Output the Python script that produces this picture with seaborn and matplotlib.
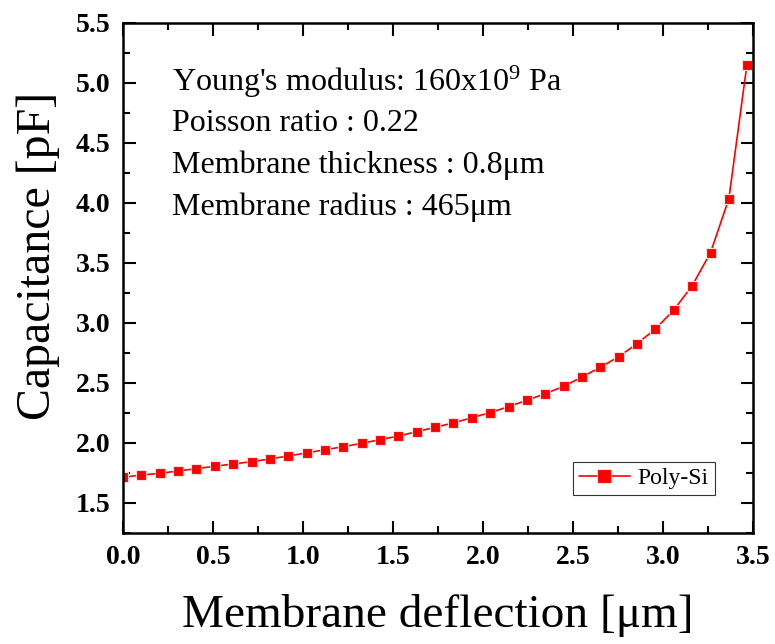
import matplotlib
matplotlib.use("Agg")
import matplotlib.pyplot as plt
import seaborn as sns
import pandas as pd
from matplotlib.ticker import MultipleLocator, FormatStrFormatter

deflection = [0.000, 0.102, 0.204, 0.306, 0.408, 0.510, 0.612, 0.714, 0.816, 0.918,
              1.020, 1.122, 1.224, 1.326, 1.428, 1.530, 1.632, 1.734, 1.836, 1.938,
              2.040, 2.142, 2.244, 2.346, 2.448, 2.550, 2.652, 2.754, 2.856, 2.958,
              3.060, 3.162, 3.264, 3.366, 3.466]
capacitance = [1.714, 1.733, 1.747, 1.767, 1.786, 1.806, 1.825, 1.844, 1.867, 1.892,
               1.917, 1.944, 1.969, 1.997, 2.028, 2.058, 2.094, 2.131, 2.167, 2.211,
               2.253, 2.303, 2.356, 2.411, 2.472, 2.550, 2.631, 2.719, 2.828, 2.950,
               3.108, 3.311, 3.586, 4.036, 5.150]
series_name = "Poly-Si"
info_lines = [r"Young's modulus: 160x10$^{9}$ Pa",
              "Poisson ratio : 0.22",
              "Membrane thickness : 0.8\u03bcm",
              "Membrane radius : 465\u03bcm"]

sns.set_style("ticks")
plt.rcParams["font.family"] = ["Liberation Serif", "DejaVu Serif"]
plt.rcParams["mathtext.fontset"] = "custom"
plt.rcParams["mathtext.rm"] = "Liberation Serif"
plt.rcParams["mathtext.it"] = "Liberation Serif:italic"
for k in ["text.color", "axes.labelcolor", "xtick.color", "ytick.color", "axes.edgecolor"]:
    plt.rcParams[k] = "black"

df = pd.DataFrame({"x": deflection, "y": capacitance, "s": series_name})

fig = plt.figure(figsize=(7.75, 6.44), dpi=100)
ax = fig.add_axes([0.1587, 0.1724, 0.8129, 0.7919])

sns.lineplot(data=df, x="x", y="y", hue="s", palette=["#ff0000"], marker="s",
             markersize=7, markeredgewidth=0.8, markeredgecolor="#ffdddd",
             linewidth=1.2, ax=ax)

ax.set_xlim(0, 3.5)
ax.set_ylim(1.25, 5.5)
ax.xaxis.set_major_locator(MultipleLocator(0.5))
ax.xaxis.set_minor_locator(MultipleLocator(0.25))
ax.yaxis.set_major_locator(MultipleLocator(0.5))
ax.yaxis.set_minor_locator(MultipleLocator(0.25))
ax.xaxis.set_major_formatter(FormatStrFormatter("%.1f"))
ax.yaxis.set_major_formatter(FormatStrFormatter("%.1f"))
ax.tick_params(which="both", direction="in", top=True, right=True, width=1.5, color="black",
               labelcolor="black")
ax.tick_params(which="major", length=9, labelsize=20, pad=9)
ax.tick_params(which="minor", length=5)
for sp in ax.spines.values():
    sp.set_linewidth(1.8)
    sp.set_color("black")

ax.set_xlabel("Membrane deflection [\u03bcm]", fontsize=34, color="black")
ax.set_ylabel("Capacitance [pF]", fontsize=34.5, color="black")
ax.xaxis.set_label_coords(0.5, -0.12)
ax.yaxis.set_label_coords(-0.1, 0.543)

for i, t in enumerate(info_lines):
    ax.text(0.078, 0.885 - i * 0.082, t, transform=ax.transAxes, fontsize=23,
            va="center", ha="left", color="black")

leg = ax.legend(loc="lower right", bbox_to_anchor=(0.939, 0.0745),
                prop={"size": 17}, frameon=True, fancybox=False, edgecolor="black",
                handlelength=2.2, borderpad=0.25, handletextpad=0.3, borderaxespad=0,
                markerscale=1.35)
leg.get_frame().set_linewidth(0.8)
for t in leg.get_texts():
    t.set_color("black")

fig.canvas.draw()
for lab in ax.get_xticklabels() + ax.get_yticklabels():
    lab.set_fontweight("bold")

fig.savefig("out.png", dpi=100)
